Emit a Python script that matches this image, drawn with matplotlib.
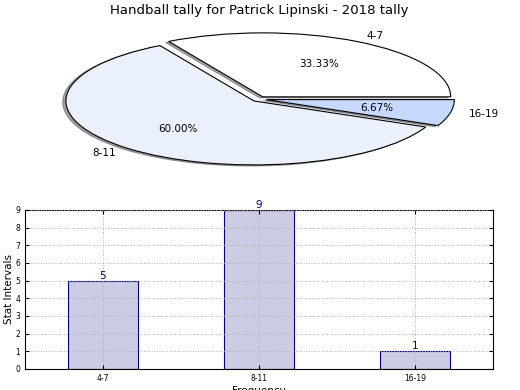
import matplotlib
matplotlib.use("Agg")
import matplotlib.pyplot as plt

categories = ["4-7", "8-11", "16-19"]
counts = [5, 9, 1]
pie_colors = ["#ffffff", "#eaf1fd", "#c6d9fd"]
explode = [0.04, 0.04, 0.04]
title = "Handball tally for Patrick Lipinski - 2018 tally"

fig = plt.figure(figsize=(5.2, 3.9), dpi=100)

ax1 = fig.add_axes([0.046, 0.541, 0.904, 0.41])
wedges, texts, autotexts = ax1.pie(
    counts, labels=categories, colors=pie_colors, explode=explode,
    autopct="%.2f%%", shadow=dict(ox=-0.012, oy=-0.012), startangle=0,
    wedgeprops=dict(edgecolor="black", linewidth=0.8),
    textprops=dict(fontsize=7.5))
ax1.set_aspect("auto")
ax1.set_xlim(-1.25, 1.25)
ax1.set_ylim(-1.25, 1.25)
ax1.set_title(title, fontsize=9.5, pad=3.5)

ax2 = fig.add_axes([0.048, 0.054, 0.900, 0.408])
x = list(range(len(categories)))
bars = ax2.bar(x, counts, width=0.45, color="#ccccE5", edgecolor="navy", linewidth=0.8)
for xi, v in zip(x, counts):
    ax2.text(xi, v, str(v), ha="center", va="bottom", color="navy", fontsize=7.5)
ax2.set_xlim(-0.5, 2.5)
ax2.set_ylim(0, 9)
ax2.set_yticks(range(0, 10))
ax2.set_xticks(x)
ax2.set_xticklabels(categories)
ax2.tick_params(labelsize=5.5, direction="in", top=True, right=True, length=3)
ax2.grid(True, color="#b0b0b0", linestyle=":", linewidth=0.7)
ax2.set_axisbelow(False)
ax2.set_ylabel("Stat Intervals", fontsize=7.5, labelpad=1)
ax2.set_xlabel("Frequency", fontsize=7.5, labelpad=2)
for s in ax2.spines.values():
    s.set_linewidth(0.8)

fig.savefig("out.png", dpi=100)
